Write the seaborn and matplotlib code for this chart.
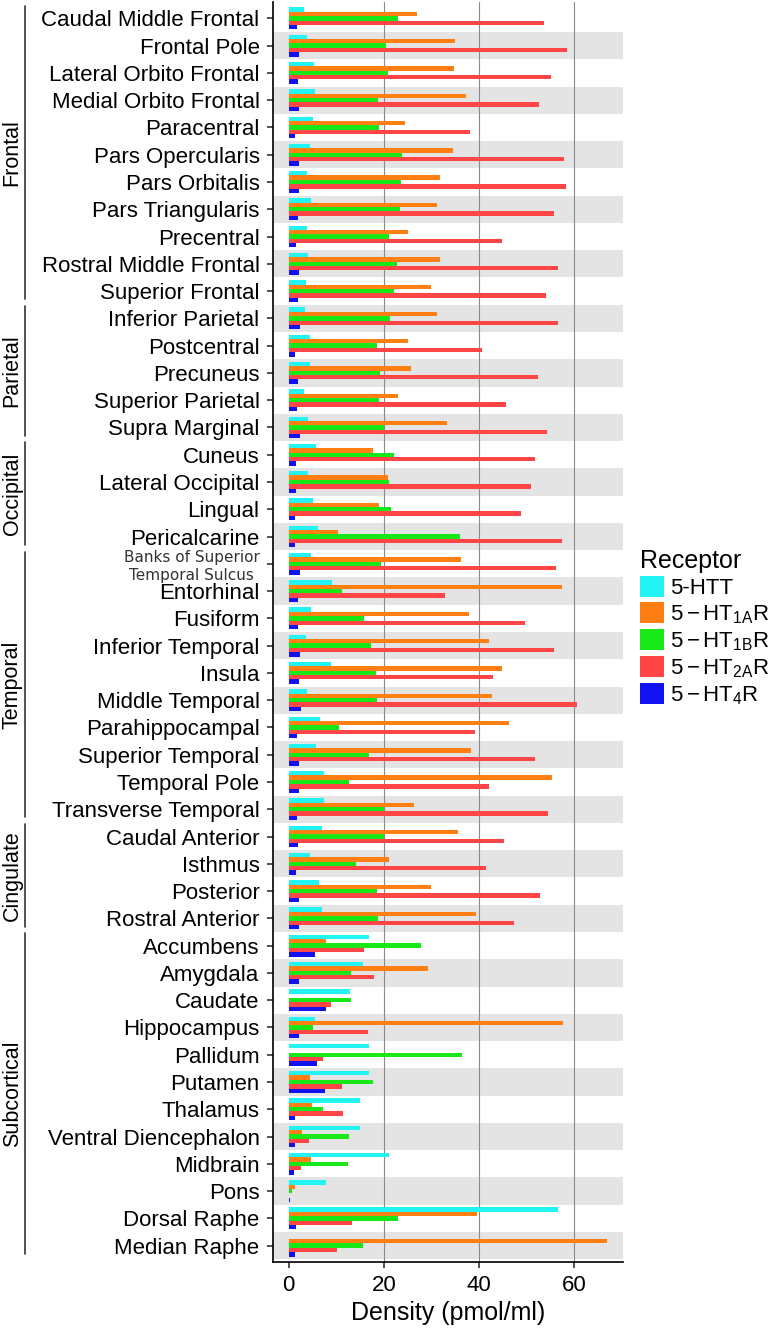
import numpy as np
import pandas as pd
import matplotlib
matplotlib.use("Agg")
import matplotlib.pyplot as plt
import matplotlib.transforms as mtransforms
import seaborn as sns

nan = np.nan

regions = ["Caudal Middle Frontal", "Frontal Pole", "Lateral Orbito Frontal", "Medial Orbito Frontal",
           "Paracentral", "Pars Opercularis", "Pars Orbitalis", "Pars Triangularis", "Precentral",
           "Rostral Middle Frontal", "Superior Frontal",
           "Inferior Parietal", "Postcentral", "Precuneus", "Superior Parietal", "Supra Marginal",
           "Cuneus", "Lateral Occipital", "Lingual", "Pericalcarine",
           "Banks of Superior\nTemporal Sulcus", "Entorhinal", "Fusiform", "Inferior Temporal", "Insula",
           "Middle Temporal", "Parahippocampal", "Superior Temporal", "Temporal Pole", "Transverse Temporal",
           "Caudal Anterior", "Isthmus", "Posterior", "Rostral Anterior",
           "Accumbens", "Amygdala", "Caudate", "Hippocampus", "Pallidum", "Putamen", "Thalamus",
           "Ventral Diencephalon", "Midbrain", "Pons", "Dorsal Raphe", "Median Raphe"]

group_names = ["Frontal", "Parietal", "Occipital", "Temporal", "Cingulate", "Subcortical"]
group_sizes = [11, 5, 4, 10, 4, 12]

receptors = ["5-HTT", r"$5-HT_{1A}R$", r"$5-HT_{1B}R$", r"$5-HT_{2A}R$", r"$5-HT_{4}R$"]
colors = ["#22F4F4", "#FF7F12", "#18E818", "#FF4545", "#1212F0"]

htt = [3.3, 3.9, 5.3, 5.5, 5.2, 4.5, 3.9, 4.6, 3.9, 4.0, 3.7,
       3.4, 4.5, 4.4, 3.3, 4.0,
       5.8, 4.0, 5.1, 6.1,
       4.6, 9.1, 4.7, 3.6, 8.9, 3.9, 6.5, 5.7, 7.5, 7.4,
       7.0, 4.5, 6.4, 7.1,
       16.8, 15.6, 12.9, 5.5, 16.8, 16.8, 15.1, 15.0, 21.0, 7.9, 56.6, nan]
ht1a = [27.0, 34.9, 34.7, 37.2, 24.5, 34.6, 31.8, 31.3, 25.2, 31.8, 30.0,
        31.2, 25.1, 25.8, 23.1, 33.4,
        17.7, 20.9, 19.1, 10.3,
        36.3, 57.6, 37.9, 42.1, 44.8, 42.7, 46.3, 38.4, 55.3, 26.3,
        35.6, 21.0, 29.9, 39.4,
        7.9, 29.3, nan, 57.8, nan, 4.5, 5.0, 2.7, 4.7, 1.4, 39.7, 67.0]
ht1b = [23.0, 20.5, 20.9, 18.7, 19.1, 23.9, 23.6, 23.5, 21.1, 22.7, 22.2,
        21.3, 18.5, 19.3, 19.0, 20.0,
        22.1, 21.1, 21.6, 36.1,
        19.5, 11.2, 15.8, 17.3, 18.3, 18.6, 10.6, 16.8, 12.7, 20.1,
        20.0, 14.1, 18.5, 18.7,
        27.8, 13.2, 13.1, 5.2, 36.4, 17.7, 7.2, 12.7, 12.5, 0.8, 23.0, 15.6]
ht2a = [53.8, 58.5, 55.1, 52.6, 38.1, 57.9, 58.4, 55.8, 44.8, 56.6, 54.1,
        56.7, 40.7, 52.5, 45.8, 54.3,
        51.9, 51.0, 48.8, 57.4,
        56.2, 32.8, 49.8, 55.9, 42.9, 60.6, 39.1, 51.9, 42.2, 54.5,
        45.2, 41.5, 52.8, 47.5,
        15.8, 17.9, 9.0, 16.6, 7.2, 11.2, 11.5, 4.3, 2.6, nan, 13.4, 10.2]
ht4 = [1.8, 2.1, 2.0, 2.2, 1.4, 2.1, 2.1, 2.0, 1.5, 2.1, 1.9,
       2.4, 1.4, 2.0, 1.8, 2.3,
       1.5, 1.6, 1.4, 1.3,
       2.4, 2.0, 2.0, 2.4, 2.1, 2.6, 1.7, 2.2, 2.1, 1.8,
       2.0, 1.5, 2.1, 2.1,
       5.6, 2.1, 7.8, 2.1, 6.0, 7.6, 1.4, 1.4, 1.2, 0.3, 1.5, 1.4]

# long format table for seaborn
frames = []
for rec, vals in zip(receptors, [htt, ht1a, ht1b, ht2a, ht4]):
    frames.append(pd.DataFrame({"region": regions, "receptor": rec, "density": vals}))
df = pd.concat(frames, ignore_index=True).dropna()

sns.set_theme(style="white")
plt.rcParams["font.family"] = ["Liberation Sans", "DejaVu Sans"]
plt.rcParams["mathtext.fontset"] = "custom"
plt.rcParams["mathtext.rm"] = "Liberation Sans"
plt.rcParams["mathtext.it"] = "Liberation Sans"
plt.rcParams["mathtext.bf"] = "Liberation Sans:bold"
plt.rcParams["mathtext.default"] = "regular"
plt.rcParams["text.color"] = "black"
plt.rcParams["axes.labelcolor"] = "black"
plt.rcParams["xtick.color"] = "black"
plt.rcParams["ytick.color"] = "black"

fig = plt.figure(figsize=(7.75, 13.3), dpi=100)
ax = fig.add_axes([0.3519, 0.0511, 0.4524, 0.9474])

n = len(regions)
# alternating row bands
for i in range(1, n, 2):
    ax.axhspan(i - 0.5, i + 0.5, color="#E4E4E4", lw=0, zorder=0)
for xv in [20, 40, 60]:
    ax.axvline(xv, color="#8A8A8A", lw=0.8, zorder=1)

sns.barplot(data=df, x="density", y="region", hue="receptor", order=regions,
            hue_order=receptors, palette=colors, orient="h", width=0.8,
            errorbar=None, saturation=1, linewidth=0, zorder=2, ax=ax)

ax.set_xlim(-3.36, 70.4)
ax.set_ylim(n - 0.4, -0.6)
ax.set_xticks([0, 20, 40, 60])
ax.set_xlabel("Density (pmol/ml)", fontsize=18, labelpad=4)
ax.set_ylabel("")
for s in ["top", "right"]:
    ax.spines[s].set_visible(False)
for s in ["left", "bottom"]:
    ax.spines[s].set_color("black")
    ax.spines[s].set_linewidth(1.2)
ax.tick_params(axis="y", length=4, width=1.1, color="#222222", pad=5.5, labelsize=16,
               labelcolor="black", left=True)
ax.tick_params(axis="x", length=4, width=1.1, color="#222222", pad=5, labelsize=16,
               labelcolor="black", bottom=True)
ax.grid(False)

for lab in ax.get_yticklabels():
    if lab.get_text().startswith("Banks"):
        lab.set_fontfamily("DejaVu Sans")
        lab.set_fontsize(11)
        lab.set_color("#333333")
        lab.set_multialignment("center")

# anatomical group brackets on the left
trans = mtransforms.blended_transform_factory(fig.transFigure, ax.transData)
start = 0
for name, size in zip(group_names, group_sizes):
    end = start + size - 1
    y0, y1 = start - 0.45, end + 0.3
    ax.plot([0.0326, 0.0326], [y0, y1], transform=trans, color="#333333",
            lw=1.2, clip_on=False)
    ax.text(0.0157, (y0 + y1) / 2, name, transform=trans, rotation=90,
            ha="center", va="center", fontsize=15.5, color="black")
    start += size

sns.move_legend(ax, "upper left", bbox_to_anchor=(0.8258, 0.5875),
                bbox_transform=fig.transFigure, frameon=False, title="Receptor",
                fontsize=16, title_fontsize=18, alignment="left", borderpad=0,
                handlelength=1.1, handleheight=1.1, handletextpad=0.25,
                labelspacing=0.14, borderaxespad=0)

fig.savefig("out.png", dpi=100)
